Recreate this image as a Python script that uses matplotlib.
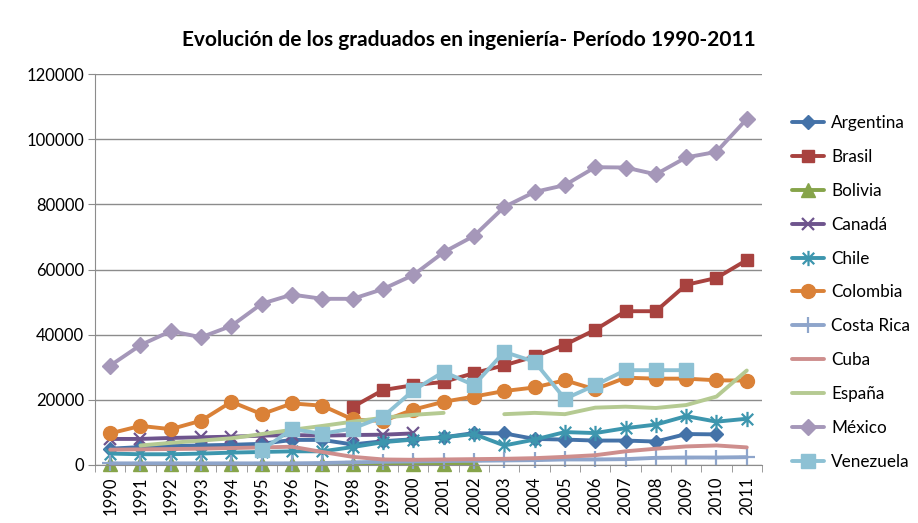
import numpy as np
import matplotlib
matplotlib.use("Agg")
import matplotlib.pyplot as plt
from matplotlib.path import Path

plt.rcParams['font.family'] = ['Lato', 'DejaVu Sans']

years = list(range(1990, 2012))
nan = np.nan

argentina = [5000, 5500, 5800, 6000, 6200, 6500, 7700, 7700, 6300, 7300, 7900, 8500, 9800, 9700, 8000,
             7800, 7500, 7500, 7200, 9500, 9400, nan]
brasil = [nan]*8 + [17800, 23000, 24500, 25500, 28200, 30600, 33300, 36900, 41500, 47200, 47200, 55300, 57400, 62900]
bolivia = [300, 300, 300, 300, 300, 300, 300, 300, 400, 400, 400, 400, 400] + [nan]*9
canada = [8000, 8000, 8300, 8500, 8700, 9000, 9200, 9000, 9200, 9300, 9700] + [nan]*11
chile = [3500, 3300, 3300, 3500, 3800, 4000, 4200, 4200, 5500, 7000, 7800, 8500, 9500, 6000, 7800,
         10100, 9800, 11300, 12400, 15000, 13300, 14200]
colombia = [9700, 12000, 11000, 13600, 19400, 15600, 18900, 18200, 14000, 13500, 17000, 19400, 21000, 22700,
            23800, 26000, 23200, 26800, 26500, 26500, 26000, 25900]
costa_rica = [500, 500, 500, 500, 500, 500, 500, 600, 800, 1000, 1100, 1200, 1300, 1400, 1500,
              1700, 1700, 1800, 2200, 2300, 2300, 2400]
cuba = [4700, 4800, 4900, 5000, 5200, 5400, 5600, 4000, 2500, 1700, 1600, 1700, 1800, 1900, 2100,
        2500, 3000, 4200, 5000, 5700, 6000, 5400]
espana = [nan, 6000, 6800, 7500, 8200, 9500, 10800, 12000, 13300, 14500, 15400, 16000, nan, 15600, 16000,
          15600, 17600, 17900, 17500, 18400, 21000, 29000]
mexico = [30500, 36800, 41100, 39200, 42700, 49500, 52300, 51000, 51000, 54000, 58300, 65300, 70300, 79200,
          83800, 85900, 91400, 91300, 89200, 94400, 96100, 106200]
venezuela = [nan]*5 + [4600, 11000, 9600, 11200, 14800, 22900, 28600, 24500, 34700, 31700, 20300, 24500,
                       29100, 29100, 29100, nan, nan]

series_names = ['Argentina', 'Brasil', 'Bolivia', 'Canadá', 'Chile', 'Colombia', 'Costa Rica',
                'Cuba', 'España', 'México', 'Venezuela']
series_values = [argentina, brasil, bolivia, canada, chile, colombia, costa_rica, cuba, espana, mexico, venezuela]
colors = ['#4472A8', '#A8423F', '#86A44A', '#6E548D', '#3D96AE', '#DA8137', '#8EA5CB',
          '#CE8E8D', '#B5CA92', '#A597B9', '#8DC1D4']

# asterisk marker: X + vertical line
ast = Path([(0, -1), (0, 1), (-0.75, -0.75), (0.75, 0.75), (-0.75, 0.75), (0.75, -0.75)],
           [Path.MOVETO, Path.LINETO, Path.MOVETO, Path.LINETO, Path.MOVETO, Path.LINETO])
markers = ['D', 's', '^', 'x', ast, 'o', '+', None, None, 'D', 's']
msizes = [7, 9, 10, 9, 11, 10, 11, 0, 0, 8, 10]

fig = plt.figure(figsize=(9.18, 5.23), dpi=100)
ax = fig.add_axes([0.1035, 0.1109, 0.7265, 0.7476])

x = np.arange(len(years))
for name, vals, c, m, ms in zip(series_names, series_values, colors, markers, msizes):
    v = np.array(vals, dtype=float)
    kw = dict(color=c, lw=2.8, label=name, solid_capstyle='round', solid_joinstyle='round', clip_on=False)
    if m is not None:
        kw.update(marker=m, markersize=ms, markerfacecolor=c, markeredgecolor=c,
                  markeredgewidth=1.6 if m in ('x', '+') or m is ast else 1.0)
    ax.plot(x, v, **kw)

ax.set_xlim(-0.5, len(years) - 0.5)
ax.set_ylim(0, 120000)
ax.set_yticks(np.arange(0, 120001, 20000))
ax.set_yticklabels([str(v) for v in range(0, 120001, 20000)], fontsize=12)
ax.yaxis.grid(True, color='#8C8C8C', lw=1)
ax.set_axisbelow(True)
ax.set_xticks(x)
ax.set_xticklabels([str(y) for y in years], rotation=90, fontsize=12)
ax.set_xticks(np.arange(-0.5, len(years), 1), minor=True)
ax.tick_params(axis='x', which='major', length=0, pad=8)
ax.tick_params(axis='x', which='minor', length=5, color='#8C8C8C', direction='out')
ax.tick_params(axis='y', length=5, color='#8C8C8C', direction='out', pad=3)
for s in ['top', 'right']:
    ax.spines[s].set_visible(False)
for s in ['left', 'bottom']:
    ax.spines[s].set_color('#8C8C8C')

fig.text(0.511, 0.923, 'Evolución de los graduados en ingeniería- Período 1990-2011',
         ha='center', va='center', fontsize=15, fontweight='bold')

leg = fig.legend(loc='upper left', bbox_to_anchor=(0.855, 0.793), frameon=False, fontsize=12.3,
                 handlelength=1.9, labelspacing=1.045, handletextpad=0.4, borderaxespad=0)

fig.savefig('out.png', dpi=100)
